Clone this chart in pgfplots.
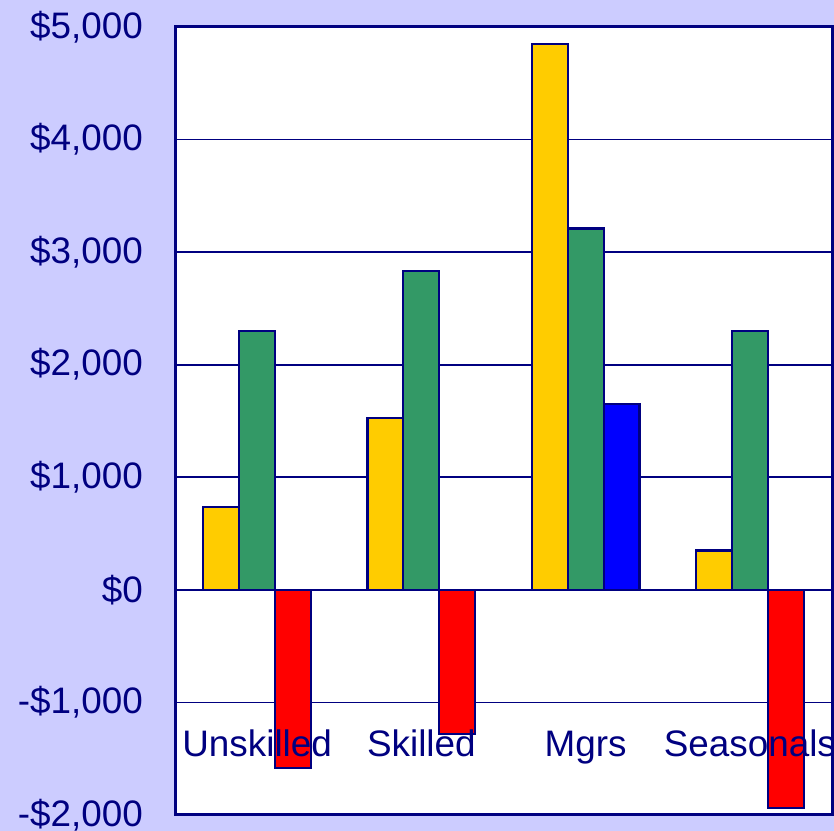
\documentclass[border=0pt]{standalone}
\usepackage{fontspec}
\setmainfont{Liberation Sans}
\usepackage{pgfplots}
\pgfplotsset{compat=1.18}
\definecolor{navy}{HTML}{000080}
\definecolor{lav}{HTML}{CCCCFF}
\definecolor{gold}{HTML}{FFCC00}
\definecolor{sea}{HTML}{339966}
\begin{document}
\begin{tikzpicture}[x=1bp,y=1bp]
\path[use as bounding box] (0,0) rectangle (834,831);
\clip (0,0) rectangle (834,831);
\fill[lav] (0,0) rectangle (834,831);
\begin{axis}[
 at={(175bp,16bp)}, anchor=south west,
 scale only axis, width=657bp, height=788bp,
 xmin=-0.5, xmax=3.5, ymin=-2000, ymax=5000,
 axis background/.style={fill=white},
 axis line style={navy, line width=3bp},
 ytick={-2000,-1000,...,5000},
 yticklabels={{-\$2,000},{-\$1,000},{\$0},{\$1,000},{\$2,000},{\$3,000},{\$4,000},{\$5,000}},
 yticklabel style={font=\fontsize{37}{40}\selectfont, text=navy, inner sep=0pt, xshift=-32bp},
 xtick=\empty,
 major tick length=0pt,
 ymajorgrids, grid style={navy, line width=1.8bp},
 ybar, bar width=0.219,
 every axis plot/.append style={draw=navy, line width=2.2bp},
]
\addplot[fill=gold, bar shift=-0.219] coordinates {(0,735) (1,1530) (2,4850) (3,350)};
\addplot[fill=sea, bar shift=0] coordinates {(0,2300) (1,2830) (2,3210) (3,2300)};
\addplot[fill=blue, bar shift=0.219] coordinates {(2,1652)};
\addplot[fill=red, bar shift=0.219] coordinates {(0,-1581) (1,-1280) (3,-1940)};
\node[font=\fontsize{37}{40}\selectfont, text=navy, anchor=base] at (axis cs:0,-1483) {Unskilled};
\node[font=\fontsize{37}{40}\selectfont, text=navy, anchor=base] at (axis cs:1,-1483) {Skilled};
\node[font=\fontsize{37}{40}\selectfont, text=navy, anchor=base] at (axis cs:2,-1483) {Mgrs};
\node[font=\fontsize{37}{40}\selectfont, text=navy, anchor=base] at (axis cs:3,-1483) {Seasonals};
\end{axis}
\end{tikzpicture}
\end{document}
